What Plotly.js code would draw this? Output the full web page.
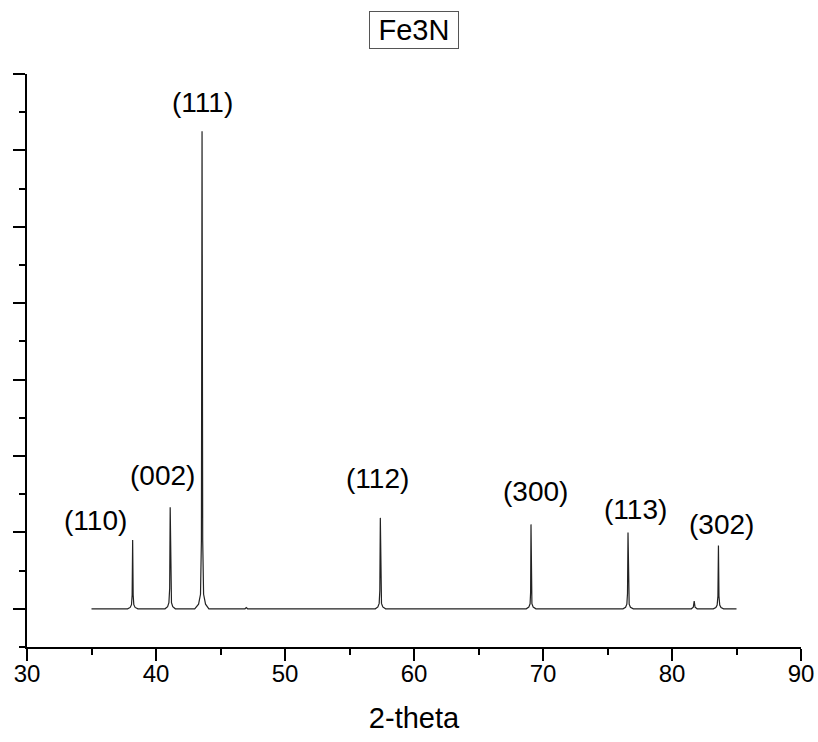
<!DOCTYPE html>
<html>
<head>
<meta charset="utf-8">
<script src="https://cdn.plot.ly/plotly-3.0.1.min.js"></script>
<style>
  html, body { margin: 0; padding: 0; background: #fff; }
  #chart { width: 818px; height: 742px; }
</style>
</head>
<body>
<div id="chart"></div>
<script>
// Diffraction pattern of Fe3N (2-theta in degrees, intensity in arbitrary units)
const twoTheta = [
  35.0,
  37.8, 38.0, 38.1, 38.15, 38.19, 38.23, 38.28, 38.38, 38.6,
  40.7, 40.9, 41.0, 41.06, 41.1, 41.14, 41.2, 41.3, 41.5,
  43.0, 43.3, 43.45, 43.52, 43.57, 43.62, 43.69, 43.84, 44.1,
  46.9, 47.0, 47.1,
  57.0, 57.2, 57.3, 57.35, 57.39, 57.43, 57.48, 57.58, 57.8,
  68.7, 68.9, 69.0, 69.04, 69.07, 69.1, 69.14, 69.24, 69.45,
  76.2, 76.4, 76.5, 76.55, 76.59, 76.63, 76.68, 76.78, 77.0,
  81.5, 81.65, 81.72, 81.79, 81.95,
  83.2, 83.4, 83.5, 83.56, 83.6, 83.64, 83.7, 83.8, 84.0,
  85.0
];
const intensity = [
  0,
  0, 18, 54, 180, 900, 180, 54, 18, 0,
  0, 27, 80, 266, 1330, 266, 80, 27, 0,
  0, 60, 190, 900, 6250, 900, 190, 60, 0,
  0, 15, 0,
  0, 24, 71, 238, 1190, 238, 71, 24, 0,
  0, 22, 66, 221, 1105, 221, 66, 22, 0,
  0, 20, 60, 200, 1000, 200, 60, 20, 0,
  0, 20, 100, 20, 0,
  0, 17, 50, 166, 830, 166, 50, 17, 0,
  0
];

// Peak labels (Miller indices) and where they sit
const peakLabels = ["(110)", "(002)", "(111)", "(112)", "(300)", "(113)", "(302)"];
const labelX     = [35.3, 40.5, 43.57, 57.2, 69.45, 77.15, 83.8];
const labelY     = [1160, 1750, 6630, 1700, 1530, 1300, 1100];

const chartTitle = "Fe3N";
const xTitle = "2-theta";

const FONT = "Arial, 'Liberation Sans', sans-serif";

const annotations = peakLabels.map((t, i) => ({
  x: labelX[i], y: labelY[i], xref: 'x', yref: 'y',
  text: t, showarrow: false,
  font: {family: FONT, size: 28, color: '#000'},
  xanchor: 'center', yanchor: 'middle'
}));

annotations.push({
  x: 0.5, y: 1.0774, xref: 'paper', yref: 'paper',
  text: chartTitle, showarrow: false,
  font: {family: FONT, size: 29, color: '#000'},
  xanchor: 'center', yanchor: 'middle',
  bordercolor: '#555', borderwidth: 1, borderpad: 1,
  width: 86, height: 34
});

const trace = {
  x: twoTheta, y: intensity,
  type: 'scatter', mode: 'lines',
  line: {color: '#222', width: 1.2},
  hoverinfo: 'skip'
};

const layout = {
  width: 818, height: 742,
  margin: {l: 27, r: 17, t: 74, b: 95, pad: 0},
  paper_bgcolor: '#fff', plot_bgcolor: '#fff',
  showlegend: false,
  font: {family: FONT, color: '#000'},
  xaxis: {
    range: [30, 90], tick0: 30, dtick: 10,
    showline: true, linecolor: '#000', linewidth: 2,
    ticks: 'outside', ticklen: 12, tickwidth: 2, tickcolor: '#000',
    ticklabelstandoff: -8,
    minor: {dtick: 5, ticks: 'outside', ticklen: 6, tickwidth: 2, tickcolor: '#000'},
    showgrid: false, zeroline: false,
    tickfont: {family: FONT, size: 24, color: '#000'},
    title: {text: xTitle, font: {family: FONT, size: 29, color: '#000'}, standoff: 22}
  },
  yaxis: {
    range: [-500, 7000], tick0: 0, dtick: 1000,
    showline: true, linecolor: '#000', linewidth: 2,
    ticks: 'outside', ticklen: 12, tickwidth: 2, tickcolor: '#000',
    minor: {dtick: 500, ticks: 'outside', ticklen: 6, tickwidth: 2, tickcolor: '#000'},
    showgrid: false, zeroline: false,
    showticklabels: false
  },
  annotations: annotations
};

Plotly.newPlot('chart', [trace], layout, {staticPlot: true, displayModeBar: false});
</script>
</body>
</html>
